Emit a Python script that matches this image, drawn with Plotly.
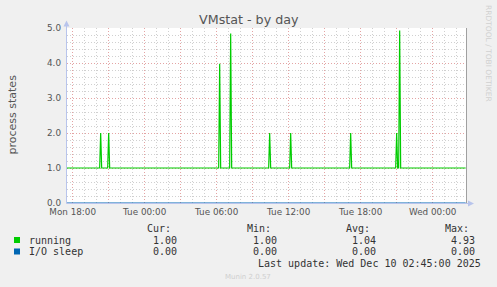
import pandas as pd
import plotly.graph_objects as go

# ---------------- data ----------------
series_names = ["running", "I/O sleep"]
series_colors = ["#00CC00", "#0066B3"]
running_baseline = 1.0
io_sleep_baseline = 0.0
sample_start = "2025-12-08 17:30"
sample_end = "2025-12-10 02:45"
spike_times = ["2025-12-08 20:20", "2025-12-08 21:00", "2025-12-09 06:15",
               "2025-12-09 07:10", "2025-12-09 10:25", "2025-12-09 12:10",
               "2025-12-09 17:10", "2025-12-09 21:00", "2025-12-09 21:15"]
spike_values = [2.0, 2.0, 3.98, 4.84, 2.0, 2.0, 2.0, 2.0, 4.93]
x_range = ["2025-12-08 17:31:40", "2025-12-10 02:51:40"]
y_range = [0, 5]
xtick_vals = ["2025-12-08 18:00", "2025-12-08 21:00", "2025-12-09 00:00",
              "2025-12-09 03:00", "2025-12-09 06:00", "2025-12-09 09:00",
              "2025-12-09 12:00", "2025-12-09 15:00", "2025-12-09 18:00",
              "2025-12-09 21:00", "2025-12-10 00:00"]
xtick_text = ["Mon 18:00", "", "Tue 00:00", "", "Tue 06:00", "",
              "Tue 12:00", "", "Tue 18:00", "", "Wed 00:00"]
ytick_vals = [0, 1, 2, 3, 4, 5]
ytick_text = ["0.0", "1.0", "2.0", "3.0", "4.0", "5.0"]
stat_headers = ["Cur:", "Min:", "Avg:", "Max:"]
running_stats = ["1.00", "1.00", "1.04", "4.93"]
io_sleep_stats = ["0.00", "0.00", "0.00", "0.00"]
last_update = "Last update: Wed Dec 10 02:45:00 2025"

# ---------------- build series ----------------
times = pd.date_range(sample_start, sample_end, freq="5min")
running = pd.Series(running_baseline, index=times)
for t, v in zip(spike_times, spike_values):
    running[pd.Timestamp(t)] = v
io_sleep = pd.Series(io_sleep_baseline, index=times)

W, H = 497, 287
L, R, T, B = 67, 30, 28, 84
PW, PH = W - L - R, H - T - B


def X(px):
    return (px - L) / PW


def Y(py):
    return (H - B - py) / PH


fig = go.Figure()
fig.add_trace(go.Scatter(x=io_sleep.index, y=io_sleep.values, mode="lines",
                         line=dict(color=series_colors[1], width=1),
                         name=series_names[1], hoverinfo="skip"))
fig.add_trace(go.Scatter(x=running.index, y=running.values, mode="lines",
                         line=dict(color=series_colors[0], width=1.2),
                         name=series_names[0]))

grid_major = "rgba(235,150,150,0.75)"
grid_minor = "rgba(200,200,200,0.85)"
dash = "1px,2px"
tickfont = dict(family="DejaVu Sans", size=8.8, color="#555555")

fig.update_xaxes(range=x_range, tickmode="array", tickvals=xtick_vals,
                 ticktext=xtick_text, showgrid=True, gridcolor=grid_major,
                 griddash=dash, gridwidth=1, ticks="", tickfont=tickfont,
                 showline=False, zeroline=False, ticklabelstandoff=2,
                 minor=dict(dtick=3600000, tick0="2025-12-08 18:00",
                            showgrid=True, gridcolor=grid_minor,
                            griddash=dash, gridwidth=1))
fig.update_yaxes(range=y_range, tickmode="array", tickvals=ytick_vals,
                 ticktext=ytick_text, showgrid=True, gridcolor=grid_major,
                 griddash=dash, gridwidth=1, ticks="", tickfont=tickfont,
                 showline=False, zeroline=False, ticklabelstandoff=5,
                 minor=dict(dtick=0.2, showgrid=True, gridcolor=grid_minor,
                            griddash=dash, gridwidth=1))

axis_col = "#B8C4EC"
shapes = [
    # left axis line and arrow
    dict(type="line", xref="paper", yref="paper", x0=X(66.5), x1=X(66.5),
         y0=Y(203.5), y1=Y(24), line=dict(color=axis_col, width=1)),
    dict(type="path", xref="paper", yref="paper",
         path=f"M {X(63.5)} {Y(26.5)} L {X(69.5)} {Y(26.5)} L {X(66.5)} {Y(20.5)} Z",
         fillcolor=axis_col, line=dict(width=0)),
    # bottom axis line and arrow
    dict(type="line", xref="paper", yref="paper", x0=X(66.5), x1=X(469),
         y0=Y(203.5), y1=Y(203.5), line=dict(color=axis_col, width=1)),
    dict(type="path", xref="paper", yref="paper",
         path=f"M {X(468)} {Y(200.5)} L {X(468)} {Y(206.5)} L {X(474)} {Y(203.5)} Z",
         fillcolor=axis_col, line=dict(width=0)),
    # right frame
    dict(type="line", xref="paper", yref="paper", x0=X(466.5), x1=X(466.5),
         y0=Y(203), y1=Y(28), line=dict(color="#A0A0A0", width=1)),
    # legend squares
    dict(type="rect", xref="paper", yref="paper", x0=X(14), x1=X(20),
         y0=Y(237), y1=Y(243), fillcolor=series_colors[0], line=dict(width=0)),
    dict(type="rect", xref="paper", yref="paper", x0=X(14), x1=X(20),
         y0=Y(248.5), y1=Y(254.5), fillcolor=series_colors[1], line=dict(width=0)),
]

mono = dict(family="DejaVu Sans Mono", size=10, color="#333333")
ann = []


def text(px, py, s, anchor="left", font=mono, angle=0):
    ann.append(dict(xref="paper", yref="paper", x=X(px), y=Y(py), text=s,
                    showarrow=False, xanchor=anchor, yanchor="middle",
                    font=font, textangle=angle))


header_right = [172.5, 272.5, 371.5, 470.5]
value_right = [179, 279, 378, 477]
for hx, h in zip(header_right, stat_headers):
    text(hx, 228.5, h, "right")
text(26.5, 240, series_names[0])
text(26.5, 251.5, series_names[1])
for vx, v in zip(value_right, running_stats):
    text(vx, 240, v, "right")
for vx, v in zip(value_right, io_sleep_stats):
    text(vx, 251.5, v, "right")
text(482.5, 263.5, last_update, "right")
text(248, 276.5, "Munin 2.0.57", "center",
     dict(family="DejaVu Sans", size=7, color="#CFCFCF"))
text(488.5, 53.5, "RRDTOOL / TOBI OETIKER", "center",
     dict(family="DejaVu Sans", size=7.5, color="#D0D0D0"), angle=90)
text(248.5, 19, "VMstat - by day", "center",
     dict(family="DejaVu Sans", size=12.7, color="#555555"))
text(11.5, 114, "process states", "center",
     dict(family="DejaVu Sans", size=11, color="#555555"), angle=-90)

fig.update_layout(width=W, height=H, margin=dict(l=L, r=R, t=T, b=B),
                  paper_bgcolor="#F0F0F0", plot_bgcolor="#FFFFFF",
                  showlegend=False, shapes=shapes, annotations=ann)

fig.write_html("out.html")
